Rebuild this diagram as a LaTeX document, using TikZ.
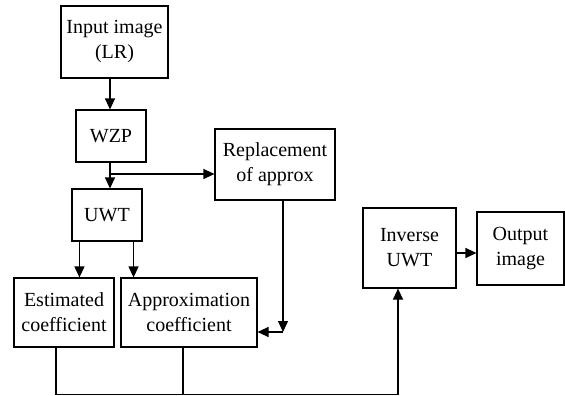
\documentclass[tikz,border=0pt]{standalone}
\usepackage{fontspec}
\setmainfont{Liberation Serif}
\usetikzlibrary{arrows.meta,calc}
\begin{document}
\begin{tikzpicture}[x=1pt,y=-1pt,
  box/.style={draw,line width=1.1pt,rectangle,inner sep=0pt,align=center,font=\fontsize{20}{25}\selectfont},
  conn/.style={line width=1.1pt},
  arr/.style={conn,-{Triangle[length=11pt,width=10pt]}}]
\useasboundingbox (0,0) rectangle (565,396);
\node[box,minimum width=107pt,minimum height=72pt] (in) at (114.5,42) {Input image\\(LR)};
\node[box,minimum width=70pt,minimum height=52pt] (wzp) at (111,136) {WZP};
\node[box,minimum width=120pt,minimum height=71pt] (rep) at (275,164.5) {Replacement\\of approx};
\node[box,minimum width=70pt,minimum height=52pt] (uwt) at (107,215) {UWT};
\node[box,minimum width=100pt,minimum height=69pt] (est) at (64,312.5) {Estimated\\coefficient};
\node[box,minimum width=136pt,minimum height=69pt] (app) at (189,312.5) {Approximation\\coefficient};
\node[box,minimum width=93pt,minimum height=80pt] (inv) at (409.5,248) {Inverse\\UWT};
\node[box,minimum width=87pt,minimum height=73pt] (out) at (520.5,248.5) {Output\\image};
\coordinate (br) at (110,174);
\coordinate (cr) at (283,332);
\coordinate (bot) at (0,394.5);
\draw[arr] (in.south -| br) -- (br |- wzp.north);
\draw[arr] (br |- wzp.south) -- (br |- uwt.north);
\draw[arr] (br) -- (br -| rep.west);
\draw[arr] ([xshift=8pt]uwt.south west) -- ([xshift=8pt]uwt.south west |- est.north);
\draw[arr] ([xshift=-9pt]uwt.south east) -- ([xshift=-9pt]uwt.south east |- app.north);
\draw[arr] (rep.south -| cr) -- (cr);
\draw[arr] (cr) -- (cr -| app.east);
\draw[conn] ([xshift=-8pt]est.south) -- ([xshift=-8pt]est.south |- bot) -- ([xshift=-11.5pt]inv.south |- bot);
\draw[arr] ([xshift=-11.5pt]inv.south |- bot) -- ([xshift=-11.5pt]inv.south);
\draw[conn] ([xshift=-6pt]app.south) -- ([xshift=-6pt]app.south |- bot);
\draw[arr] ([yshift=-5pt]inv.east) -- ([yshift=-5pt]inv.east -| out.west);
\end{tikzpicture}
\end{document}
